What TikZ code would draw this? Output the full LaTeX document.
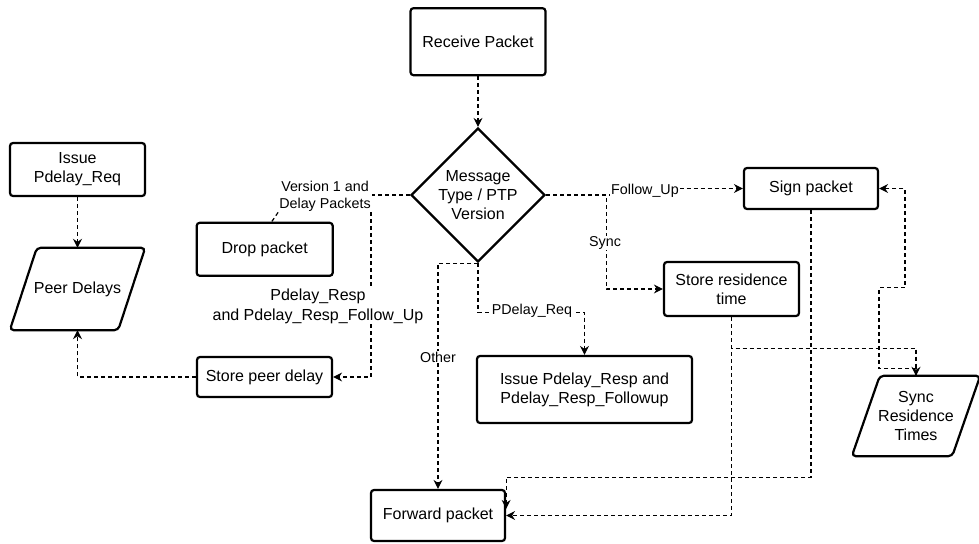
\documentclass[tikz,border=0pt]{standalone}
\usepackage{fontspec}
\setmainfont{Liberation Sans}
\usetikzlibrary{arrows.meta,shapes.geometric}
\begin{document}
\begin{tikzpicture}[x=1pt,y=-1pt,
  boxtext/.style={font=\fontsize{16}{19}\selectfont, align=center},
  box/.style={boxtext, draw, line width=2.2pt, rounded corners=3pt, fill=white, inner sep=0pt},
  shapeline/.style={draw, line width=2.2pt, rounded corners=4pt},
  dashline/.style={draw, line width=1.2pt, dash pattern=on 4pt off 3pt},
  flow/.style={dashline, -{Stealth[length=9pt,width=9pt,inset=3pt]}},
  lbl/.style={fill=white, inner sep=1pt, align=center, font=\fontsize{14.3}{17}\selectfont},
  biglbl/.style={fill=white, inner sep=1pt, align=center, font=\fontsize{16}{20}\selectfont}
]
\useasboundingbox (0,0) rectangle (979,543);

% boxes
\node[box, minimum width=135pt, minimum height=67pt] (recv) at (478,41.7) {Receive Packet};
\node[box, minimum width=135pt, minimum height=53pt] (issreq) at (77.5,169.5) {Issue\\Pdelay\_Req};
\node[box, minimum width=136pt, minimum height=53pt] (drop) at (264.7,249.3) {Drop packet};
\node[box, minimum width=135pt, minimum height=40pt] (storepeer) at (264.5,377) {Store peer delay};
\node[box, minimum width=134pt, minimum height=41pt] (sign) at (811,188.5) {Sign packet};
\node[box, minimum width=135pt, minimum height=54pt] (storeres) at (731.5,289) {Store residence\\time};
\node[box, minimum width=215pt, minimum height=67pt] (issresp) at (584.5,389.5) {Issue Pdelay\_Resp and\\Pdelay\_Resp\_Followup};
\node[box, minimum width=134pt, minimum height=51pt] (fwd) at (438,515.5) {Forward packet};

% decision
\node[boxtext, draw, diamond, line width=2.2pt, minimum width=134pt, minimum height=134pt, inner sep=0pt] (dm) at (478,195) {Message\\Type / PTP\\Version};

% parallelograms
\node[boxtext, minimum width=135pt, minimum height=82pt, inner sep=0pt] (peer) at (77.5,289) {Peer Delays};
\draw[shapeline] ([xshift=27pt]peer.north west) -- (peer.north east) -- ([xshift=-27pt]peer.south east) -- (peer.south west) -- cycle;
\node[boxtext, minimum width=128pt, minimum height=80pt, inner sep=0pt] (sync) at (916,416) {Sync\\Residence\\Times};
\draw[shapeline] ([xshift=28pt]sync.north west) -- (sync.north east) -- ([xshift=-28pt]sync.south east) -- (sync.south west) -- cycle;

% connectors
\draw[flow] (recv.south) -- (dm.north);
\draw[flow] (dm.west) -- ++(-39,0) |- (storepeer.east);
\draw[flow] (dm.south) -| (fwd.north);
\draw[flow] (dm.south) -- ++(0,49) -| (issresp.north);
\draw[flow] (dm.east) -- ++(60,0) |- (storeres.west);
\draw[flow] (dm.east) -- ++(100,0) |- (sign.west);
\draw[flow] (issreq.south) -- (peer.north);
\draw[flow] (storepeer.west) -| (peer.south);
\draw[flow] (storeres.south) -- ++(0,31) -| (sync.north);
\draw[flow] (storeres.south) |- (fwd.east);
\draw[flow] (sign.south) -- ++(0,267) -| ([yshift=-20pt]fwd.north east);
\draw[flow] (sync.north) -- ++(0,-7) -- ++(-37,0) -- ++(0,-81) -- ++(26,0) |- (sign.east);

% labels
\node[lbl] (lblV) at (325,196) {Version 1 and\\Delay Packets};
\draw[dashline] (lblV.south west) -- ([xshift=7pt]drop.north);
\node[biglbl] (lblP) at (318,306) {Pdelay\_Resp\\and Pdelay\_Resp\_Follow\_Up};
\node[lbl] (lblO) at (438,357) {Other};
\node[lbl] (lblR) at (532,311) {PDelay\_Req};
\node[lbl] (lblS) at (605,243) {Sync};
\node[lbl] (lblF) at (645,191) {Follow\_Up};
\end{tikzpicture}
\end{document}
